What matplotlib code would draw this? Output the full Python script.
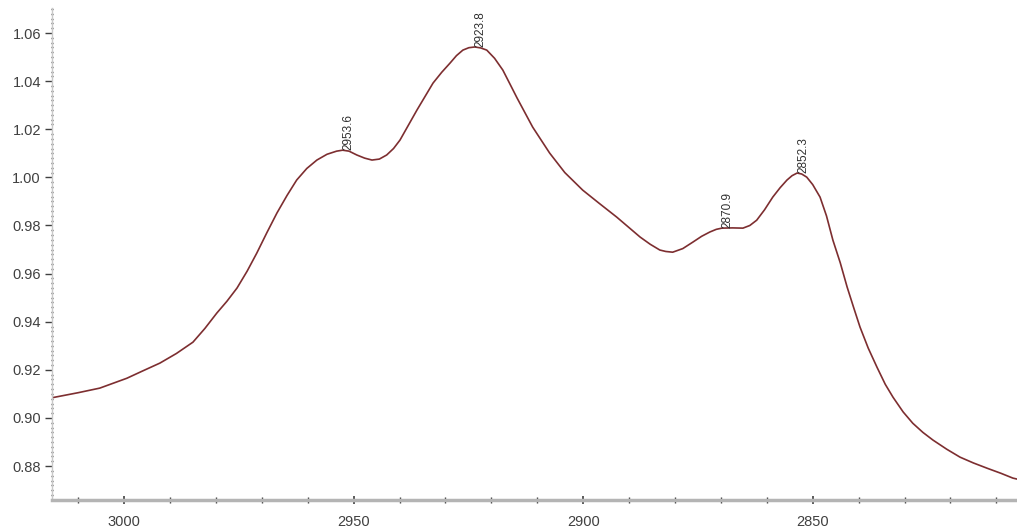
import numpy as np
import matplotlib
matplotlib.use("Agg")
import matplotlib.pyplot as plt
from matplotlib.ticker import MultipleLocator

plt.rcParams['font.family'] = ['Liberation Sans', 'DejaVu Sans']

# spectrum (wavenumber, absorbance)
wavenumber = [3015.7, 3010.0, 3005.3, 2999.4, 2996.0, 2992.2, 2988.6, 2985.0, 2982.4,
              2979.8, 2977.6, 2975.4, 2973.2, 2971.1, 2968.9, 2966.7, 2964.5,
              2962.4, 2960.2, 2958.0, 2955.8, 2953.7, 2952.4, 2951.0, 2949.3, 2947.6,
              2946.0, 2944.4, 2942.8, 2941.3, 2939.9, 2936.2, 2932.7, 2930.8, 2929.0,
              2927.6, 2926.2, 2924.9, 2923.6, 2922.3, 2921.0, 2919.3, 2917.5, 2916.0,
              2914.4, 2911.0, 2907.3, 2904.0, 2900.1, 2896.5, 2892.7, 2887.6, 2885.4,
              2883.3, 2882.0, 2880.5, 2878.3, 2876.1, 2874.2, 2872.4, 2871.0, 2869.8,
              2867.5, 2865.2, 2863.7, 2862.2, 2860.5, 2858.7, 2857.1, 2855.6, 2854.5,
              2853.4, 2852.4, 2851.3, 2850.0, 2848.4, 2847.0, 2845.6, 2844.0, 2842.5,
              2841.1, 2839.7, 2837.9, 2836.0, 2834.2, 2832.5, 2830.3, 2828.2, 2826.0,
              2823.8, 2820.8, 2817.9, 2815.0, 2812.0, 2809.0, 2806.4, 2805.5]
absorb = [0.9084, 0.9105, 0.9124, 0.9165, 0.9195, 0.9228, 0.9268, 0.9315, 0.9372,
          0.9436, 0.9485, 0.9540, 0.9610, 0.9685, 0.9770, 0.9852, 0.9925,
          0.9989, 1.0037, 1.0072, 1.0096, 1.0109, 1.0113, 1.0109, 1.0093, 1.0080,
          1.0072, 1.0076, 1.0093, 1.0120, 1.0155, 1.0280, 1.0392, 1.0437, 1.0475,
          1.0506, 1.0529, 1.0539, 1.0542, 1.0538, 1.0529, 1.0495, 1.0446, 1.0390,
          1.0330, 1.0209, 1.0101, 1.0020, 0.9947, 0.9892, 0.9835, 0.9752, 0.9722,
          0.9698, 0.9692, 0.9689, 0.9704, 0.9731, 0.9755, 0.9773, 0.9784, 0.9789,
          0.9790, 0.9789, 0.9800, 0.9822, 0.9865, 0.9918, 0.9957, 0.9989, 1.0007,
          1.0018, 1.0014, 1.0001, 0.9970, 0.9918, 0.9840, 0.9739, 0.9645, 0.9544,
          0.9460, 0.9378, 0.9290, 0.9211, 0.9140, 0.9086, 0.9025, 0.8978, 0.8940,
          0.8908, 0.8870, 0.8837, 0.8813, 0.8791, 0.8770, 0.8750, 0.8746]

# labelled peaks: label text, position of the mark
peak_labels = ['2953.6', '2923.8', '2870.9', '2852.3']
peak_x = [2952.4, 2923.6, 2869.8, 2853.4]
peak_y = [1.0113, 1.0542, 0.9789, 1.0018]

fig = plt.figure(figsize=(10.17, 5.31), dpi=100)
ax = fig.add_axes([52/1017, 31/531, 965/1017, 492/531])

ax.plot(wavenumber, absorb, color='#7d2e30', lw=1.2, solid_joinstyle='round')

for lab, px, py in zip(peak_labels, peak_x, peak_y):
    ax.text(px, py, lab, rotation=90, fontsize=8.5, color='#303030',
            ha='left', va='bottom')

ax.set_xlim(3015.7, 2805.5)
ax.set_ylim(0.8659, 1.0704)

ax.xaxis.set_major_locator(MultipleLocator(50))
ax.xaxis.set_minor_locator(MultipleLocator(10))
ax.yaxis.set_major_locator(MultipleLocator(0.02))
ax.yaxis.set_minor_locator(MultipleLocator(0.002))
ax.yaxis.set_major_formatter(plt.FormatStrFormatter('%.2f'))

for s in ['top', 'right']:
    ax.spines[s].set_visible(False)
ax.spines['bottom'].set_color('#b4b4b4')
ax.spines['bottom'].set_linewidth(2.5)
ax.spines['left'].set_color('#c8c8c8')
ax.spines['left'].set_linewidth(1)

ax.tick_params(axis='x', which='major', direction='inout', length=6, width=1.2,
               color='#404040', labelsize=10.5, labelcolor='#404040', pad=8)
ax.tick_params(axis='x', which='minor', direction='inout', length=4, width=1,
               color='#404040')
ax.tick_params(axis='y', which='major', direction='out', length=5, width=1,
               color='#404040', labelsize=10.5, labelcolor='#404040', pad=3)
ax.tick_params(axis='y', which='minor', direction='inout', length=2, width=1,
               color='#404040')

plt.savefig('out.png', dpi=100)
